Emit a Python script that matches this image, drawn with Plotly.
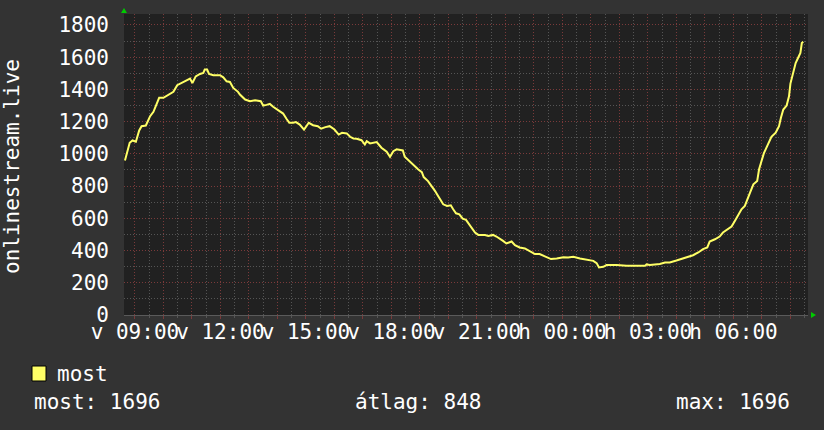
import plotly.graph_objects as go
import pandas as pd

# ---------------- data ----------------
times = [
    "2024-03-10 08:39", "2024-03-10 08:44", "2024-03-10 08:49", "2024-03-10 08:55",
    "2024-03-10 09:02", "2024-03-10 09:09", "2024-03-10 09:14", "2024-03-10 09:23",
    "2024-03-10 09:32", "2024-03-10 09:39", "2024-03-10 09:46", "2024-03-10 09:51",
    "2024-03-10 10:00", "2024-03-10 10:10", "2024-03-10 10:21", "2024-03-10 10:29",
    "2024-03-10 10:38", "2024-03-10 10:49", "2024-03-10 10:56", "2024-03-10 11:01",
    "2024-03-10 11:08", "2024-03-10 11:17", "2024-03-10 11:24", "2024-03-10 11:27",
    "2024-03-10 11:32", "2024-03-10 11:36", "2024-03-10 11:45", "2024-03-10 11:59",
    "2024-03-10 12:06", "2024-03-10 12:13", "2024-03-10 12:20", "2024-03-10 12:27",
    "2024-03-10 12:37", "2024-03-10 12:41", "2024-03-10 12:52", "2024-03-10 13:02",
    "2024-03-10 13:13", "2024-03-10 13:25", "2024-03-10 13:30", "2024-03-10 13:37",
    "2024-03-10 13:44", "2024-03-10 13:51", "2024-03-10 14:02", "2024-03-10 14:12",
    "2024-03-10 14:19", "2024-03-10 14:25", "2024-03-10 14:33", "2024-03-10 14:39",
    "2024-03-10 14:47", "2024-03-10 14:56", "2024-03-10 15:06", "2024-03-10 15:15",
    "2024-03-10 15:25", "2024-03-10 15:32", "2024-03-10 15:41", "2024-03-10 15:50",
    "2024-03-10 16:00", "2024-03-10 16:09", "2024-03-10 16:16", "2024-03-10 16:26",
    "2024-03-10 16:33", "2024-03-10 16:40", "2024-03-10 16:47", "2024-03-10 16:57",
    "2024-03-10 17:04", "2024-03-10 17:08", "2024-03-10 17:15", "2024-03-10 17:29",
    "2024-03-10 17:39", "2024-03-10 17:50", "2024-03-10 17:57", "2024-03-10 18:04",
    "2024-03-10 18:11", "2024-03-10 18:24", "2024-03-10 18:28", "2024-03-10 18:39",
    "2024-03-10 18:50", "2024-03-10 18:56", "2024-03-10 19:04", "2024-03-10 19:08",
    "2024-03-10 19:17", "2024-03-10 19:25", "2024-03-10 19:32", "2024-03-10 19:36",
    "2024-03-10 19:42", "2024-03-10 19:49", "2024-03-10 19:57", "2024-03-10 20:05",
    "2024-03-10 20:10", "2024-03-10 20:16", "2024-03-10 20:23", "2024-03-10 20:30",
    "2024-03-10 20:37", "2024-03-10 20:44", "2024-03-10 20:49", "2024-03-10 20:56",
    "2024-03-10 21:03", "2024-03-10 21:17", "2024-03-10 21:24", "2024-03-10 21:34",
    "2024-03-10 21:41", "2024-03-10 21:48", "2024-03-10 21:55", "2024-03-10 22:02",
    "2024-03-10 22:09", "2024-03-10 22:13", "2024-03-10 22:20", "2024-03-10 22:30",
    "2024-03-10 22:41", "2024-03-10 22:51", "2024-03-10 23:02", "2024-03-10 23:12",
    "2024-03-10 23:23", "2024-03-10 23:36", "2024-03-10 23:48", "2024-03-11 00:02",
    "2024-03-11 00:12", "2024-03-11 00:23", "2024-03-11 00:37", "2024-03-11 00:51",
    "2024-03-11 01:05", "2024-03-11 01:12", "2024-03-11 01:17", "2024-03-11 01:26",
    "2024-03-11 01:33", "2024-03-11 01:54", "2024-03-11 02:15", "2024-03-11 02:54",
    "2024-03-11 02:57", "2024-03-11 03:04", "2024-03-11 03:25", "2024-03-11 03:36",
    "2024-03-11 03:46", "2024-03-11 04:00", "2024-03-11 04:14", "2024-03-11 04:25",
    "2024-03-11 04:35", "2024-03-11 04:46", "2024-03-11 04:56", "2024-03-11 05:05",
    "2024-03-11 05:10", "2024-03-11 05:21", "2024-03-11 05:31", "2024-03-11 05:38",
    "2024-03-11 05:49", "2024-03-11 05:56", "2024-03-11 06:03", "2024-03-11 06:10",
    "2024-03-11 06:17", "2024-03-11 06:24", "2024-03-11 06:29", "2024-03-11 06:35",
    "2024-03-11 06:42", "2024-03-11 06:50", "2024-03-11 06:54", "2024-03-11 06:59",
    "2024-03-11 07:04", "2024-03-11 07:11", "2024-03-11 07:20", "2024-03-11 07:29",
    "2024-03-11 07:36", "2024-03-11 07:40", "2024-03-11 07:45", "2024-03-11 07:52",
    "2024-03-11 07:57", "2024-03-11 08:00", "2024-03-11 08:06", "2024-03-11 08:11",
    "2024-03-11 08:16", "2024-03-11 08:21", "2024-03-11 08:24", "2024-03-11 08:27",
]
most = [
    959, 1007, 1069, 1083,
    1075, 1145, 1172, 1176,
    1234, 1261, 1317, 1348,
    1348, 1364, 1385, 1426,
    1440, 1455, 1467, 1440,
    1481, 1496, 1502, 1523,
    1523, 1496, 1488, 1488,
    1475, 1450, 1446, 1409,
    1385, 1368, 1337, 1327,
    1333, 1327, 1300, 1304,
    1310, 1292, 1271, 1250,
    1218, 1193, 1193, 1197,
    1182, 1151, 1193, 1178,
    1172, 1156, 1166, 1172,
    1151, 1120, 1131, 1127,
    1106, 1096, 1094, 1085,
    1058, 1079, 1065, 1073,
    1038, 1013, 982, 1017,
    1028, 1021, 982, 949,
    920, 904, 887, 856,
    831, 800, 769, 749,
    718, 687, 677, 681,
    656, 631, 625, 598,
    590, 563, 543, 512,
    497, 497, 491, 497,
    487, 475, 460, 444,
    450, 456, 433, 419,
    413, 398, 378, 378,
    363, 347, 351, 359,
    357, 361, 351, 342,
    336, 322, 295, 299,
    310, 310, 305, 305,
    314, 310, 316, 326,
    326, 338, 353, 363,
    371, 388, 409, 419,
    456, 470, 487, 512,
    537, 549, 584, 625,
    656, 677, 718, 760,
    811, 831, 904, 955,
    1003, 1048, 1106, 1131,
    1172, 1224, 1275, 1300,
    1357, 1436, 1498, 1564,
    1595, 1626, 1688, 1696,
]
x_range = ["2024-03-10 08:37", "2024-03-11 08:37"]
y_range = [0, 1868]
y_ticks = [0, 200, 400, 600, 800, 1000, 1200, 1400, 1600, 1800]
x_tick_labels = {
    "2024-03-10 09:00": "v 09:00",
    "2024-03-10 12:00": "v 12:00",
    "2024-03-10 15:00": "v 15:00",
    "2024-03-10 18:00": "v 18:00",
    "2024-03-10 21:00": "v 21:00",
    "2024-03-11 00:00": "h 00:00",
    "2024-03-11 03:00": "h 03:00",
    "2024-03-11 06:00": "h 06:00",
}
series_name = "most"
y_title = "onlinestream.live"
stat_now = "most: 1696"
stat_avg = "átlag: 848"
stat_max = "max: 1696"

# ---------------- styling ----------------
W, H = 824, 430
L, R, T, B = 124, 808, 14, 315
BG = "#333333"
CANVAS = "#212121"
MAJOR = "#7a3a3a"
MINOR = "#555555"
LINE = "#ffff66"
FONT = "DejaVu Sans Mono"
FS = 21


def px(x):
    return (x - L) / (R - L)


def py(y):
    return (B - y) / (B - T)


hour_ticks = pd.date_range("2024-03-10 09:00", "2024-03-11 08:00", freq="1h")
hour_vals = [t.strftime("%Y-%m-%d %H:%M") for t in hour_ticks]
hour_text = [x_tick_labels.get(v, "") for v in hour_vals]
half_vals = [t.strftime("%Y-%m-%d %H:%M")
             for t in pd.date_range("2024-03-10 08:30", "2024-03-11 08:30", freq="1h")]

fig = go.Figure()
fig.add_trace(go.Scatter(
    x=times, y=most, mode="lines", name=series_name,
    line=dict(color=LINE, width=2), showlegend=False,
))

fig.update_layout(
    width=W, height=H,
    margin=dict(l=L, r=W - R, t=T, b=H - B),
    paper_bgcolor=BG, plot_bgcolor=CANVAS,
    font=dict(family=FONT, size=FS, color="#ffffff"),
    xaxis=dict(
        type="date", range=x_range, fixedrange=True,
        tickmode="array", tickvals=hour_vals, ticktext=hour_text,
        showgrid=True, gridcolor=MAJOR, griddash="1px,2px", gridwidth=1,
        ticks="outside", ticklen=3, tickcolor=MAJOR, tickwidth=1,
        ticklabelstandoff=-5,
        minor=dict(tickmode="array", tickvals=half_vals, showgrid=True,
                   gridcolor=MINOR, griddash="1px,2px", gridwidth=1,
                   ticks="outside", ticklen=2, tickcolor=MINOR),
        showline=True, linecolor="#5a5a5a", linewidth=1,
        zeroline=False,
        tickfont=dict(family=FONT, size=FS, color="#ffffff"),
        tickangle=0,
    ),
    yaxis=dict(
        range=y_range, fixedrange=True,
        tickmode="array", tickvals=y_ticks,
        showgrid=True, gridcolor=MAJOR, griddash="1px,2px", gridwidth=1,
        minor=dict(dtick=100, tick0=0, showgrid=True, gridcolor=MINOR,
                   griddash="1px,2px", gridwidth=1),
        ticks="", ticklabelstandoff=14,
        zeroline=False, showline=False,
        tickfont=dict(family=FONT, size=FS, color="#ffffff"),
    ),
    showlegend=False,
)

annotations = [
    dict(text=y_title, x=px(12), y=py(167), textangle=-90,
         xanchor="center", yanchor="middle"),
    dict(text=series_name, x=px(55), y=py(374), xanchor="left", yanchor="middle"),
    dict(text=stat_now, x=px(32), y=py(402), xanchor="left", yanchor="middle"),
    dict(text=stat_avg, x=px(418), y=py(402), xanchor="center", yanchor="middle"),
    dict(text=stat_max, x=px(792), y=py(402), xanchor="right", yanchor="middle"),
]
for a in annotations:
    a.update(xref="paper", yref="paper", showarrow=False,
             font=dict(family=FONT, size=FS, color="#ffffff"))
fig.update_layout(annotations=annotations)

shapes = [
    dict(type="rect", xref="paper", yref="paper",
         x0=px(32), x1=px(46), y0=py(381), y1=py(366),
         fillcolor=LINE, line=dict(color="#000000", width=1)),
    dict(type="path", xref="paper", yref="paper",
         path=f"M {px(121)},{py(13)} L {px(127)},{py(13)} L {px(124)},{py(8)} Z",
         fillcolor="#00cc00", line=dict(width=0)),
    dict(type="path", xref="paper", yref="paper",
         path=f"M {px(811)},{py(312)} L {px(811)},{py(318)} L {px(816)},{py(315)} Z",
         fillcolor="#00cc00", line=dict(width=0)),
]
fig.update_layout(shapes=shapes)

fig.write_html(
    "out.html",
    config={"displayModeBar": False},
    post_script="document.body.style.margin='0';document.body.style.background='#333333';",
)
